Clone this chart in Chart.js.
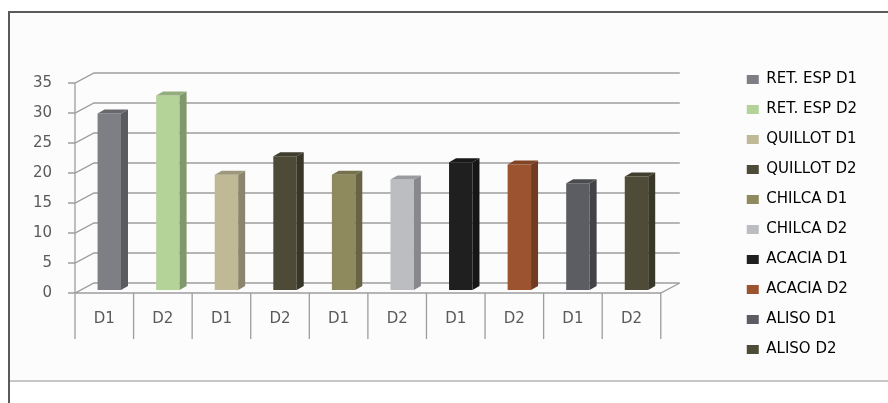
<!DOCTYPE html>
<html>
<head>
<meta charset="utf-8">
<script src="https://cdn.jsdelivr.net/npm/chart.js@4.4.1/dist/chart.umd.min.js"></script>
<style>
  html, body { margin: 0; padding: 0; background: #fff; }
  #wrap { width: 888px; height: 403px; }
</style>
</head>
<body>
<div id="wrap"><canvas id="chart" width="888" height="403"></canvas></div>
<script>
const categories = ['D1', 'D2', 'D1', 'D2', 'D1', 'D2', 'D1', 'D2', 'D1', 'D2'];
const seriesNames = ['RET. ESP D1', 'RET. ESP D2', 'QUILLOT D1', 'QUILLOT D2', 'CHILCA D1',
  'CHILCA D2', 'ACACIA D1', 'ACACIA D2', 'ALISO D1', 'ALISO D2'];
const values = [29.4, 32.4, 19.2, 22.3, 19.2, 18.4, 21.3, 20.9, 17.8, 18.9];
const colors = ['#7e7f84', '#b3d398', '#c0b996', '#4d4b37', '#8f8a5e',
  '#bcbdc1', '#1f1f20', '#9c5330', '#5b5d62', '#4e4c37'];
const yTicks = [0, 5, 10, 15, 20, 25, 30, 35];

const FONT = "'DejaVu Sans', sans-serif";
const TEXT = '#5a5a5a';
const GRID = '#9d9d9d';
// depth of the back wall and of the bars
const WALL = { dx: 19, dy: -10 };
const BAR_SHIFT = { dx: 5, dy: -3 };
const BAR_DEPTH = { dx: 7, dy: -4 };

function shade(hex, f) {
  const n = parseInt(hex.slice(1), 16);
  const r = Math.round(((n >> 16) & 255) * f);
  const g = Math.round(((n >> 8) & 255) * f);
  const b = Math.round((n & 255) * f);
  return `rgb(${r},${g},${b})`;
}

const frame = {
  id: 'frame',
  beforeDraw(chart) {
    const ctx = chart.ctx;
    ctx.save();
    ctx.fillStyle = '#fcfcfc';
    ctx.fillRect(9, 12, 879, 369);
    ctx.strokeStyle = '#5a5a5a';
    ctx.lineWidth = 2;
    ctx.beginPath();
    ctx.moveTo(9, 403);
    ctx.lineTo(9, 12);
    ctx.lineTo(888, 12);
    ctx.stroke();
    ctx.strokeStyle = '#b4b4b4';
    ctx.lineWidth = 1.5;
    ctx.beginPath();
    ctx.moveTo(10, 381);
    ctx.lineTo(888, 381);
    ctx.stroke();
    ctx.restore();
  }
};

const walls = {
  id: 'walls',
  beforeDatasetsDraw(chart) {
    const { ctx, chartArea: a, scales: { y } } = chart;
    ctx.save();
    ctx.strokeStyle = GRID;
    ctx.lineWidth = 1.3;
    ctx.beginPath();
    yTicks.forEach(v => {
      const py = y.getPixelForValue(v);
      // tick mark, diagonal to the back wall, back gridline
      ctx.moveTo(a.left - 7, py);
      ctx.lineTo(a.left, py);
      ctx.lineTo(a.left + WALL.dx, py + WALL.dy);
      ctx.lineTo(a.right + WALL.dx, py + WALL.dy);
    });
    // front axis, floor edge and category separators
    ctx.moveTo(a.left, a.top);
    ctx.lineTo(a.left, a.bottom);
    ctx.lineTo(a.right, a.bottom);
    ctx.lineTo(a.right + WALL.dx, a.bottom + WALL.dy);
    const step = (a.right - a.left) / categories.length;
    for (let i = 0; i <= categories.length; i++) {
      const px = a.left + i * step;
      ctx.moveTo(px, a.bottom);
      ctx.lineTo(px, a.bottom + 46);
    }
    ctx.stroke();
    ctx.restore();

    ctx.save();
    ctx.translate(BAR_SHIFT.dx, BAR_SHIFT.dy);
  },
  afterDatasetsDraw(chart) {
    const ctx = chart.ctx;
    const meta = chart.getDatasetMeta(0);
    meta.data.forEach((bar, i) => {
      const { x, y, base, width } = bar.getProps(['x', 'y', 'base', 'width'], true);
      const l = x - width / 2, r = x + width / 2;
      const { dx, dy } = BAR_DEPTH;
      ctx.fillStyle = shade(colors[i], 0.72);
      ctx.beginPath();
      ctx.moveTo(r, y);
      ctx.lineTo(r + dx, y + dy);
      ctx.lineTo(r + dx, base + dy);
      ctx.lineTo(r, base);
      ctx.closePath();
      ctx.fill();
      ctx.fillStyle = shade(colors[i], 0.82);
      ctx.beginPath();
      ctx.moveTo(l, y);
      ctx.lineTo(l + dx, y + dy);
      ctx.lineTo(r + dx, y + dy);
      ctx.lineTo(r, y);
      ctx.closePath();
      ctx.fill();
    });
    ctx.restore();
  }
};

new Chart(document.getElementById('chart'), {
  type: 'bar',
  data: {
    labels: categories,
    datasets: [{
      data: values,
      backgroundColor: colors,
      borderWidth: 0,
      barPercentage: 0.4,
      categoryPercentage: 1
    }]
  },
  options: {
    responsive: false,
    animation: false,
    layout: { padding: { top: 57, right: 21, bottom: 0, left: 0 } },
    plugins: {
      tooltip: { enabled: false },
      legend: {
        position: 'right',
        align: 'start',
        labels: {
          boxWidth: 12,
          boxHeight: 9,
          padding: 15,
          color: TEXT,
          font: { family: FONT, size: 15 },
          generateLabels: () => seriesNames.map((name, i) => ({
            text: name,
            fillStyle: colors[i],
            strokeStyle: colors[i],
            lineWidth: 0,
            hidden: false,
            index: i
          }))
        }
      }
    },
    scales: {
      x: {
        position: 'bottom',
        grid: { display: false, drawTicks: false },
        border: { display: false },
        ticks: { color: TEXT, font: { family: FONT, size: 15 }, padding: 17 },
        afterFit: s => { s.height = 110; }
      },
      xTop: {
        type: 'category',
        position: 'top',
        grid: { display: false, drawTicks: false },
        border: { display: false },
        ticks: { display: false },
        afterFit: s => { s.height = 26; }
      },
      y: {
        min: 0,
        max: 35,
        afterBuildTicks: s => { s.ticks = yTicks.map(v => ({ value: v })); },
        grid: { display: false, drawTicks: false },
        border: { display: false },
        ticks: { color: TEXT, font: { family: FONT, size: 15 }, padding: 23 },
        afterFit: s => { s.width = 75; }
      },
      yRight: {
        type: 'linear',
        position: 'right',
        grid: { display: false, drawTicks: false },
        border: { display: false },
        ticks: { display: false },
        afterFit: s => { s.width = 71; }
      }
    }
  },
  plugins: [frame, walls]
});
</script>
</body>
</html>
